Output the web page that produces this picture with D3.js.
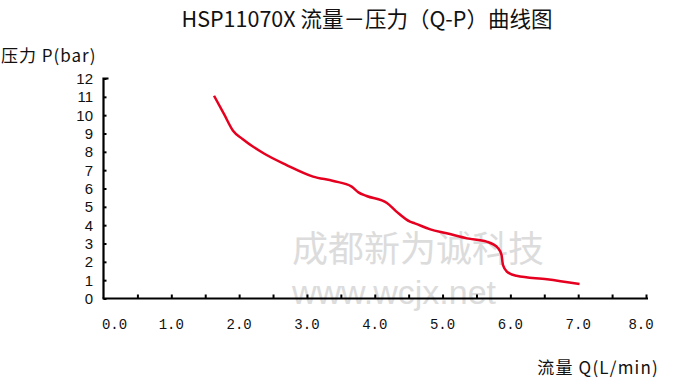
<!DOCTYPE html>
<html><head><meta charset="utf-8">
<script src="https://cdn.jsdelivr.net/npm/d3@7"></script>
<style>body{margin:0;background:#fff}svg{display:block}</style>
</head><body>
<svg id="c" width="676" height="391"></svg>
<script>
const title = "HSP11070X 流量－压力（Q-P）曲线图";
const yTitle = "压力 P(bar)";
const xTitle = "流量 Q(L/min)";
const watermark1 = "成都新为诚科技";
const watermark2 = "www.wcjx.net";
const xTickLabels = ["0.0","1.0","2.0","3.0","4.0","5.0","6.0","7.0","8.0"];
const yTickValues = [0,1,2,3,4,5,6,7,8,9,10,11,12];
const flowQ =     [1.63, 1.78, 1.91, 2.05, 2.36, 2.70, 3.09, 3.39, 3.66, 3.76, 3.88, 4.18, 4.32, 4.52, 4.59, 4.82, 5.06, 5.36, 5.65, 5.82, 5.87, 5.89, 5.95, 6.09, 6.54, 7.02];
const pressureP = [11.06, 10.04, 9.15, 8.70, 7.92, 7.28, 6.65, 6.41, 6.10, 5.79, 5.59, 5.21, 4.74, 4.19, 4.10, 3.77, 3.56, 3.28, 3.10, 2.74, 2.37, 1.83, 1.46, 1.24, 1.05, 0.79];

const svg = d3.select("#c");
const x = d3.scaleLinear().domain([0, 8]).range([103.5, 646]);
const y = d3.scaleLinear().domain([0, 12]).range([298.5, 78.5]);

// watermark
svg.append("text").attr("x", 292).attr("y", 262).attr("font-family", "Noto Sans CJK SC")
  .attr("font-size", 36).attr("fill", "#dcdcdc").text(watermark1);
svg.append("text").attr("x", 292).attr("y", 304).attr("font-family", "Liberation Sans")
  .attr("font-size", 34).attr("fill", "#dcdcdc").text(watermark2);

// titles
svg.append("text").attr("x", 367).attr("y", 27).attr("text-anchor", "middle")
  .attr("font-family", "Noto Sans CJK SC").attr("font-size", 21.5).attr("fill", "#111").text(title);
svg.append("text").attr("x", 1).attr("y", 62).attr("letter-spacing", 1)
  .attr("font-family", "Noto Sans CJK SC").attr("font-size", 17).attr("fill", "#111").text(yTitle);
svg.append("text").attr("x", 659).attr("y", 374).attr("text-anchor", "end").attr("letter-spacing", 1.2)
  .attr("font-family", "Noto Sans CJK SC").attr("font-size", 17).attr("fill", "#111").text(xTitle);

// y axis
const yAxis = d3.axisRight(y).tickValues(yTickValues).tickSize(3).tickFormat("");
const gy = svg.append("g").attr("transform", `translate(${x(0)},0)`).call(yAxis);
gy.select(".domain").attr("d", `M5,${y(12)}H0V${y(0)}`).attr("stroke", "#000").attr("stroke-width", 2.2);
gy.selectAll(".tick line").attr("stroke", "#000").attr("stroke-width", 2);
svg.append("g").selectAll("text").data(yTickValues).join("text")
  .attr("x", 93).attr("y", d => y(d)).attr("dy", "0.36em").attr("text-anchor", "end")
  .attr("font-family", "Liberation Sans").attr("font-size", 15).attr("fill", "#111").text(d => d);

// x axis
const xAxis = d3.axisTop(x).tickValues(d3.range(0.5, 8.01, 0.5)).tickSize(4).tickFormat("");
const gx = svg.append("g").attr("transform", `translate(0,${y(0)})`).call(xAxis);
gx.select(".domain").attr("d", `M${x(0)-1},0H${x(8)+2}`).attr("stroke", "#000").attr("stroke-width", 2.2);
gx.selectAll(".tick line").attr("stroke", "#000").attr("stroke-width", 2);
svg.append("g").selectAll("text").data(xTickLabels).join("text")
  .attr("x", (d, i) => i === 0 ? x(0) + 11 : (i === 8 ? x(8) - 5 : x(i)))
  .attr("y", 324).attr("dy", "0.36em").attr("text-anchor", "middle")
  .attr("font-family", "Liberation Mono").attr("font-size", 14).attr("fill", "#111").text(d => d);

// curve
const pts = flowQ.map((q, i) => [q, pressureP[i]]);
svg.append("path").datum(pts)
  .attr("d", d3.line().x(d => x(d[0])).y(d => y(d[1])).curve(d3.curveMonotoneX))
  .attr("fill", "none").attr("stroke", "#e60020").attr("stroke-width", 2.5);
</script>
</body></html>
